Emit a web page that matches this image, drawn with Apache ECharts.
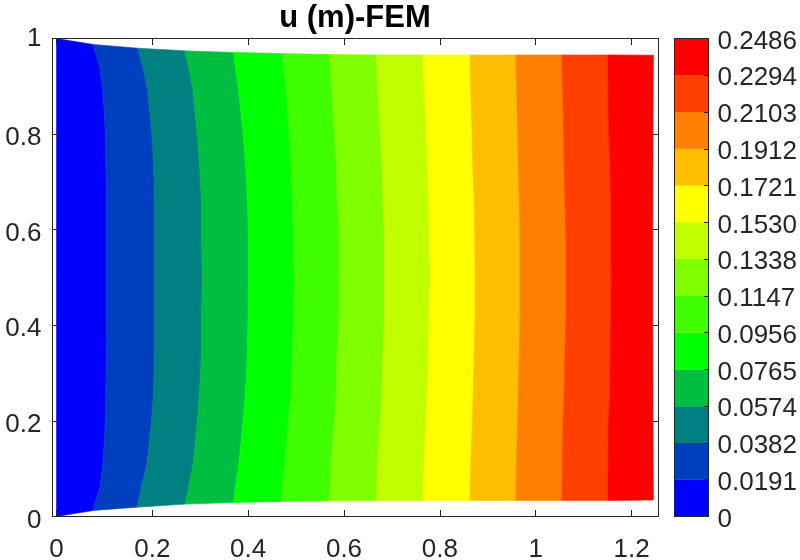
<!DOCTYPE html>
<html>
<head>
<meta charset="utf-8">
<style>html,body{margin:0;padding:0;background:#fff}#c{width:800px;height:560px}</style>
<script src="https://cdn.jsdelivr.net/npm/echarts@6/dist/echarts.min.js"></script>
</head>
<body>
<div id="c"></div>
<script>
var titleText = 'u (m)-FEM';
var levelLabels = ['0','0.0191','0.0382','0.0574','0.0765','0.0956','0.1147','0.1338','0.1530','0.1721','0.1912','0.2103','0.2294','0.2486'];
var levels = [0,0.0191,0.0382,0.0574,0.0765,0.0956,0.1147,0.1338,0.1530,0.1721,0.1912,0.2103,0.2294,0.2486];
var bandColors = ['#0000FF','#0040BF','#008080','#00BF40','#00FF00','#40FF00','#80FF00','#BFFF00','#FFFF00','#FFBF00','#FF8000','#FF4000','#FF0000'];
var xTicks = [0,0.2,0.4,0.6,0.8,1,1.2];
var yTicks = [0,0.2,0.4,0.6,0.8,1];

// y of the interior sample rows of each contour (top to bottom)
var rowY = [0.94,0.89,0.80,0.75,0.66,0.58,0.50,0.42,0.34,0.25,0.20,0.11,0.06];
// y where each contour meets the top and the bottom edge of the domain
var topEdgeY    = [1.0,0.9875,0.9797,0.9743,0.9708,0.9686,0.9666,0.9657,0.9657,0.9657,0.9657,0.9657,0.9657,0.9651];
var bottomEdgeY = [0,0.0125,0.0196,0.0259,0.0292,0.0313,0.0328,0.0334,0.0334,0.0334,0.0334,0.0334,0.0334,0.0345];
// x of each contour: top edge, the rows above, bottom edge
var c0  = [0,0,0,0,0,0,0,0,0,0,0,0,0,0,0];
var c1  = [0.0763,0.0902,0.0971,0.1021,0.1027,0.1048,0.1048,0.1048,0.1048,0.1042,0.1027,0.1021,0.0971,0.0902,0.0763];
var c2  = [0.1700,0.1804,0.1908,0.1992,0.2021,0.2048,0.2048,0.2048,0.2048,0.2048,0.2021,0.1985,0.1888,0.1771,0.1688];
var c3  = [0.2673,0.2763,0.2854,0.2938,0.2979,0.3027,0.3027,0.3048,0.3027,0.3027,0.2979,0.2944,0.2854,0.2756,0.2688];
var c4  = [0.3694,0.3735,0.3804,0.3896,0.3938,0.3985,0.4006,0.4006,0.3996,0.3985,0.3938,0.3896,0.3804,0.3735,0.3694];
var c5  = [0.4694,0.4742,0.4792,0.4860,0.4896,0.4923,0.4944,0.4965,0.4944,0.4923,0.4896,0.4840,0.4767,0.4715,0.4694];
var c6  = [0.5694,0.5715,0.5750,0.5804,0.5833,0.5867,0.5902,0.5902,0.5902,0.5860,0.5833,0.5798,0.5729,0.5715,0.5694];
var c7  = [0.6673,0.6679,0.6708,0.6756,0.6783,0.6819,0.6840,0.6840,0.6840,0.6819,0.6783,0.6756,0.6700,0.6679,0.6673];
var c8  = [0.7652,0.7652,0.7679,0.7715,0.7735,0.7771,0.7783,0.7798,0.7777,0.7763,0.7735,0.7708,0.7673,0.7652,0.7652];
var c9  = [0.8631,0.8631,0.8646,0.8673,0.8679,0.8715,0.8729,0.8735,0.8735,0.8715,0.8694,0.8679,0.8646,0.8631,0.8631];
var c10 = [0.9590,0.9590,0.9604,0.9625,0.9631,0.9658,0.9673,0.9673,0.9673,0.9658,0.9631,0.9625,0.9596,0.9590,0.9590];
var c11 = [1.0548,1.0548,1.0563,1.0583,1.0590,1.0610,1.0631,1.0631,1.0631,1.0610,1.0590,1.0569,1.0554,1.0548,1.0548];
var c12 = [1.1506,1.1506,1.1513,1.1527,1.1548,1.1569,1.1569,1.1575,1.1569,1.1554,1.1548,1.1521,1.1513,1.1506,1.1506];
var c13 = [1.2458,1.2456,1.2452,1.2450,1.2448,1.2446,1.2445,1.2445,1.2445,1.2446,1.2448,1.2450,1.2452,1.2456,1.2458];
var contours = [c0,c1,c2,c3,c4,c5,c6,c7,c8,c9,c10,c11,c12,c13];

var INK = '#262626';
var FONT = '"Liberation Sans", Arial, sans-serif';
var FS = 26;

function contourPoints(i) {
  var xs = contours[i], pts = [[xs[0], topEdgeY[i]]];
  rowY.forEach(function (y, k) { pts.push([xs[k + 1], y]); });
  pts.push([xs[xs.length - 1], bottomEdgeY[i]]);
  return pts;
}

function renderBand(params, api) {
  var i = api.value(0);
  var pts = contourPoints(i).concat(contourPoints(i + 1).reverse()).map(function (p) { return api.coord(p); });
  return { type: 'polygon', shape: { points: pts },
    style: { fill: bandColors[i], stroke: bandColors[i], lineWidth: 0.6 } };
}
function renderBar(params, api) {
  var i = api.value(0);
  var a = api.coord([0, i + 1]), b = api.coord([1, i]);
  return { type: 'rect', shape: { x: a[0], y: a[1], width: b[0] - a[0], height: b[1] - a[1] },
    style: { fill: bandColors[i], stroke: bandColors[i], lineWidth: 0.3 } };
}

var line = { show: true, onZero: false, lineStyle: { color: INK, width: 1 } };
var label = { color: INK, fontFamily: FONT, fontSize: FS, hideOverlap: false, moveOverlap: false };
function tick(vals, len) { return { show: true, inside: true, length: len, customValues: vals, lineStyle: { color: INK, width: 1 } }; }

var XMIN = -0.00835, XMAX = 1.2563;
var barTicks = levels.map(function (_, i) { return i; });

var chart = echarts.init(document.getElementById('c'), null, { renderer: 'canvas' });
chart.setOption({
  animation: false,
  backgroundColor: '#fff',
  title: { text: titleText, left: 350, top: -2, textAlign: 'center',
    textStyle: { fontFamily: FONT, fontSize: 31, fontWeight: 'bold', color: '#000' } },
  grid: [
    { left: 52.5, top: 38.5, width: 606, height: 478, outerBoundsMode: 'none' },
    { left: 674.5, top: 38.5, width: 34, height: 478, outerBoundsMode: 'none' }
  ],
  xAxis: [
    { type: 'value', gridIndex: 0, position: 'bottom', min: XMIN, max: XMAX, z: 5, splitLine: { show: false }, axisLine: line,
      axisTick: tick(xTicks, 6.5),
      axisLabel: Object.assign({ customValues: xTicks, margin: 20, formatter: function (v) { return String(v); } }, label) },
    { type: 'value', gridIndex: 0, position: 'top', min: XMIN, max: XMAX, z: 5, splitLine: { show: false }, axisLine: line,
      axisTick: tick(xTicks, 6.5), axisLabel: { show: false } },
    { type: 'value', gridIndex: 1, position: 'bottom', min: 0, max: 1, z: 5, splitLine: { show: false }, axisLine: line,
      axisTick: { show: false }, axisLabel: { show: false } },
    { type: 'value', gridIndex: 1, position: 'top', min: 0, max: 1, z: 5, splitLine: { show: false }, axisLine: line,
      axisTick: { show: false }, axisLabel: { show: false } }
  ],
  yAxis: [
    { type: 'value', gridIndex: 0, position: 'left', min: 0, max: 1, z: 5, splitLine: { show: false }, axisLine: line,
      axisTick: tick(yTicks, 6.5),
      axisLabel: Object.assign({ customValues: yTicks, margin: 11, verticalAlign: 'top', verticalAlignMaxLabel: 'middle', padding: [-9, 0, 0, 0], formatter: function (v) { return String(v); } }, label) },
    { type: 'value', gridIndex: 0, position: 'right', min: 0, max: 1, z: 5, splitLine: { show: false }, axisLine: line,
      axisTick: tick(yTicks, 6.5), axisLabel: { show: false } },
    { type: 'value', gridIndex: 1, position: 'left', min: 0, max: 13, z: 5, splitLine: { show: false }, axisLine: line,
      axisTick: { show: false }, axisLabel: { show: false } },
    { type: 'value', gridIndex: 1, position: 'right', min: 0, max: 13, z: 5, splitLine: { show: false }, axisLine: line,
      axisTick: tick(barTicks, 4.5),
      axisLabel: Object.assign({ customValues: barTicks, margin: 9, verticalAlign: 'top', padding: [-10, 0, 0, 0], formatter: function (v) { return levelLabels[v]; } }, label) }
  ],
  series: [
    { type: 'custom', xAxisIndex: 0, yAxisIndex: 0, clip: true, silent: true, renderItem: renderBand,
      data: bandColors.map(function (_, i) { return [i]; }), encode: { x: -1, y: -1 } },
    { type: 'custom', xAxisIndex: 2, yAxisIndex: 2, clip: true, silent: true, renderItem: renderBar,
      data: bandColors.map(function (_, i) { return [i]; }), encode: { x: -1, y: -1 } }
  ]
});
</script>
</body>
</html>
